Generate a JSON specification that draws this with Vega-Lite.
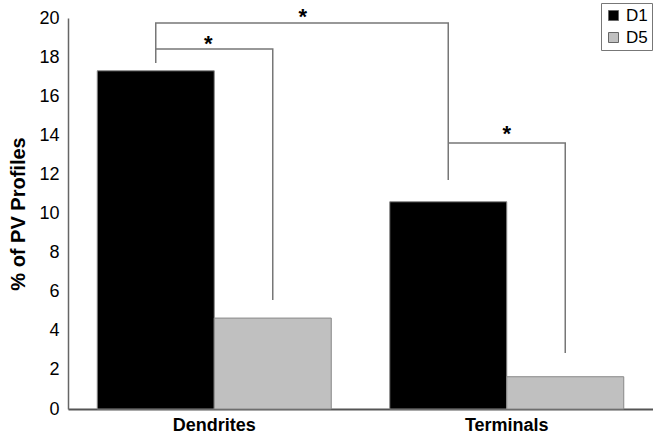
{
  "$schema": "https://vega.github.io/schema/vega-lite/v6.json",
  "width": 585,
  "height": 391,
  "autosize": {"type": "none"},
  "padding": {"left": 68, "top": 18, "right": 0, "bottom": 30},
  "background": "white",
  "config": {
    "view": {"stroke": null},
    "font": "Liberation Sans"
  },
  "datasets": {
    "bars": [
      {"Group": "Dendrites", "Series": "D1", "Value": 17.3},
      {"Group": "Dendrites", "Series": "D5", "Value": 4.65},
      {"Group": "Terminals", "Series": "D1", "Value": 10.6},
      {"Group": "Terminals", "Series": "D5", "Value": 1.65}
    ],
    "brackets": [
      {"Bracket": "A", "Order": 1, "Group": "Dendrites", "Series": "D1", "Value": 17.7},
      {"Bracket": "A", "Order": 2, "Group": "Dendrites", "Series": "D1", "Value": 18.41},
      {"Bracket": "A", "Order": 3, "Group": "Dendrites", "Series": "D5", "Value": 18.41},
      {"Bracket": "A", "Order": 4, "Group": "Dendrites", "Series": "D5", "Value": 5.58},
      {"Bracket": "B", "Order": 1, "Group": "Dendrites", "Series": "D1", "Value": 18.41},
      {"Bracket": "B", "Order": 2, "Group": "Dendrites", "Series": "D1", "Value": 19.74},
      {"Bracket": "B", "Order": 3, "Group": "Terminals", "Series": "D1", "Value": 19.74},
      {"Bracket": "B", "Order": 4, "Group": "Terminals", "Series": "D1", "Value": 11.71},
      {"Bracket": "C", "Order": 1, "Group": "Terminals", "Series": "D1", "Value": 13.6},
      {"Bracket": "C", "Order": 2, "Group": "Terminals", "Series": "D5", "Value": 13.6},
      {"Bracket": "C", "Order": 3, "Group": "Terminals", "Series": "D5", "Value": 2.86}
    ],
    "star1": [
      {"Group": "Dendrites", "Value": 18.87, "Label": "*"}
    ],
    "star3": [
      {"Group": "Terminals", "Value": 14.27, "Label": "*"}
    ],
    "star2": [
      {"Group": "Dendrites", "Series": "D5", "Value": 20.26, "Label": "*"}
    ]
  },
  "encoding": {
    "x": {
      "field": "Group", "type": "nominal",
      "scale": {"paddingInner": 0.2, "paddingOuter": 0.1},
      "axis": {
        "title": null, "labelAngle": 0, "ticks": false, "labelPadding": 7,
        "labelFontSize": 18, "labelFontWeight": "bold", "labelColor": "black",
        "domainColor": "#555555", "domainWidth": 2
      }
    },
    "y": {
      "field": "Value", "type": "quantitative",
      "scale": {"domain": [0, 20], "nice": false},
      "axis": {
        "title": "% of PV Profiles", "titleFontSize": 20, "titleFontWeight": "bold",
        "titleColor": "black", "titlePadding": 10,
        "labelFontSize": 18, "labelColor": "black", "labelPadding": 9,
        "labelOverlap": false, "labelFlush": false,
        "ticks": false, "grid": false,
        "values": [0, 2, 4, 6, 8, 10, 12, 14, 16, 18, 20],
        "domainColor": "#666666", "domainWidth": 1.5
      }
    }
  },
  "layer": [
    {
      "data": {"name": "bars"},
      "mark": {"type": "bar", "strokeWidth": 1},
      "encoding": {
        "xOffset": {"field": "Series", "type": "nominal", "scale": {"paddingInner": 0, "paddingOuter": 0}},
        "color": {
          "field": "Series", "type": "nominal",
          "scale": {"domain": ["D1", "D5"], "range": ["#000000", "#c0c0c0"]},
          "legend": {
            "title": null, "orient": "none", "legendX": 533, "legendY": -15,
            "symbolType": "square", "symbolSize": 100, "symbolStrokeColor": "#666666", "symbolStrokeWidth": 1,
            "labelFontSize": 17, "labelColor": "black", "rowPadding": 4,
            "strokeColor": "#777777", "padding": 4, "labelOffset": 4
          }
        },
        "stroke": {"value": "#888888"}
      }
    },
    {
      "data": {"name": "brackets"},
      "mark": {"type": "line", "color": "#777777", "strokeWidth": 1.5, "interpolate": "linear"},
      "encoding": {
        "xOffset": {"field": "Series", "type": "nominal"},
        "detail": {"field": "Bracket"},
        "order": {"field": "Order", "type": "quantitative"}
      }
    },
    {
      "data": {"name": "star1"},
      "mark": {"type": "text", "fontSize": 22, "fontWeight": "bold", "color": "black", "dx": -6, "dy": 4},
      "encoding": {
        "text": {"field": "Label"}
      }
    },
    {
      "data": {"name": "star3"},
      "mark": {"type": "text", "fontSize": 22, "fontWeight": "bold", "color": "black", "dx": 0, "dy": 4},
      "encoding": {
        "text": {"field": "Label"}
      }
    },
    {
      "data": {"name": "star2"},
      "mark": {"type": "text", "fontSize": 22, "fontWeight": "bold", "color": "black", "dx": 30, "dy": 4},
      "encoding": {
        "xOffset": {"field": "Series", "type": "nominal"},
        "text": {"field": "Label"}
      }
    }
  ]
}
